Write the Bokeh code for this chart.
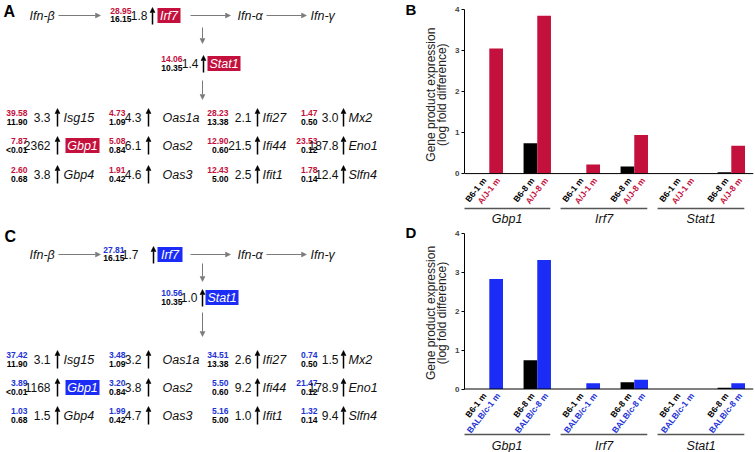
import math
from bokeh.plotting import figure
from bokeh.models import (Range1d, ColumnDataSource, Arrow, NormalHead, Span,
                          LinearAxis, FixedTicker)
from bokeh.layouts import row, column
from bokeh.embed import file_html
from bokeh.resources import INLINE
from bokeh.core.properties import value

# ---------------- data ----------------
grid_genes = ["Isg15", "Oas1a", "Ifi27", "Mx2",
              "Gbp1", "Oas2", "Ifi44", "Eno1",
              "Gbp4", "Oas3", "Ifit1", "Slfn4"]
b6_expr = ["11.90", "1.09", "13.38", "0.50",
           "<0.01", "0.84", "0.60", "0.12",
           "0.68", "0.42", "5.00", "0.14"]
aj_expr = ["39.58", "4.73", "28.23", "1.47",
           "7.87", "5.08", "12.90", "23.53",
           "2.60", "1.91", "12.43", "1.78"]
aj_fold = ["3.3", "4.3", "2.1", "3.0",
           "2362", "6.1", "21.5", "187.8",
           "3.8", "4.6", "2.5", "12.4"]
balb_expr = ["37.42", "3.48", "34.51", "0.74",
             "3.89", "3.20", "5.50", "21.47",
             "1.03", "1.99", "5.16", "1.32"]
balb_fold = ["3.1", "3.2", "2.6", "1.5",
             "1168", "3.8", "9.2", "178.9",
             "1.5", "4.7", "1.0", "9.4"]
path_genes = ["Irf7", "Stat1"]
b6_path = ["16.15", "10.35"]
aj_path = ["28.95", "14.06"]
aj_path_fold = ["1.8", "1.4"]
balb_path = ["27.81", "10.56"]
balb_path_fold = ["1.7", "1.0"]
ifn_labels = ["Ifn-β", "Ifn-α", "Ifn-γ"]
panel_letters = ["A", "B", "C", "D"]

bar_genes = ["Gbp1", "Irf7", "Stat1"]
b6_1m = [0.0, 0.0, 0.0]
b6_8m = [0.74, 0.17, 0.03]
aj_1m = [3.05, 0.22, 0.0]
aj_8m = [3.85, 0.94, 0.68]
b6_8m_d = [0.74, 0.175, 0.03]
balb_1m = [2.83, 0.15, 0.0]
balb_8m = [3.32, 0.24, 0.15]
y_ticks = [0, 1, 2, 3, 4]
y_label_1 = "Gene product expression"
y_label_2 = "(log fold difference)"

# ---------------- style ----------------
RED = "#c4103c"
BLUE = "#1a2cf5"
BLUE_TXT = "#2233d6"
GREY = "#7a7a7a"
FONT = "Liberation Sans"
NARROW = "Liberation Sans Narrow, Liberation Sans"
NBSP = "\u00a0"


def add_text(p, xs, ys, texts, colors, size, style="normal", align="left",
             baseline="middle", angle=0.0, y_offset=0, font=FONT):
    src = ColumnDataSource(dict(x=xs, y=ys, t=texts, c=colors))
    p.text(x="x", y="y", text="t", text_color="c", source=src,
           text_font=value(font), text_font_size=size, text_font_style=style,
           text_align=align, text_baseline=baseline, angle=angle, y_offset=y_offset)


def add_arrows(p, x0, y0, x1, y1, color, width, head):
    src = ColumnDataSource(dict(x0=x0, y0=y0, x1=x1, y1=y1))
    p.add_layout(Arrow(end=NormalHead(size=head, fill_color=color, line_color=color, line_width=0.5),
                       x_start="x0", y_start="y0", x_end="x1", y_end="y1",
                       line_color=color, line_width=width, source=src))


COL_V = [27, 125, 228, 317]
COL_F = [50, 141, 251, 338]
COL_A = [57, 148, 257, 343]
COL_G = [63, 162, 262, 348]

LAYOUT_A = dict(letter=(3, 11), row_y=15, ifn_x=[29, 237, 310],
                h_arrows=[(58, 100), (190, 230), (266, 306)],
                irf_v=131, irf_f=147, irf_a=152, irf_box=(157, 180),
                down1=(27, 43), stat_y=63, stat_v=182, stat_f=198, stat_a=203,
                stat_box=(207, 240), down2=(80, 99), down_x=202,
                grid_y=[117, 145, 174], gbp_box=(65, 99))
LAYOUT_C = dict(letter=(4, 236), row_y=254, ifn_x=[29, 237, 310],
                h_arrows=[(58, 100), (190, 230), (266, 306)],
                irf_v=124, irf_f=138, irf_a=153, irf_box=(157, 182),
                down1=(263, 281), stat_y=297, stat_v=182, stat_f=197, stat_a=202,
                stat_box=(205, 238), down2=(312, 336), down_x=202,
                grid_y=[359, 387, 415], gbp_box=(65, 99))


def draw_diagram(p, L, expr, fold, path_hi, path_fold, color, txt_color, letter):
    ry, sy = L["row_y"], L["stat_y"]
    bh = 7.5
    add_text(p, [L["letter"][0]], [L["letter"][1]], [letter], ["black"], "16px", "bold")
    add_text(p, L["ifn_x"], [ry] * 3, ifn_labels, ["#111"] * 3, "12.5px", "italic")
    add_arrows(p, [a for a, b in L["h_arrows"]], [ry] * 3, [b for a, b in L["h_arrows"]], [ry] * 3,
               GREY, 1, 5)
    dx = L["down_x"]
    add_arrows(p, [dx, dx], [L["down1"][0], L["down2"][0]], [dx, dx], [L["down1"][1], L["down2"][1]],
               GREY, 1, 5)
    boxes_l = [L["irf_box"][0], L["stat_box"][0], L["gbp_box"][0]]
    boxes_r = [L["irf_box"][1], L["stat_box"][1], L["gbp_box"][1]]
    gy1 = L["grid_y"][1]
    boxes_y = [ry, sy, gy1]
    p.quad(left=boxes_l, right=boxes_r, top=[y - bh for y in boxes_y],
           bottom=[y + bh for y in boxes_y], fill_color=color, line_color=None)
    add_text(p, [(l + r) / 2 for l, r in zip(boxes_l, boxes_r)], boxes_y,
             path_genes + [grid_genes[4]], ["white"] * 3, "12.5px", "italic", "center")
    add_text(p, [L["irf_v"], L["stat_v"]], [ry - 5, sy - 4.5], path_hi, [txt_color] * 2,
             "8.5px", "bold", "right")
    add_text(p, [L["irf_v"], L["stat_v"]], [ry + 3.5, sy + 4], b6_path, ["black"] * 2,
             "8.5px", "bold", "right")
    add_text(p, [L["irf_f"], L["stat_f"]], [ry, sy], path_fold, ["#111"] * 2, "12px", "normal",
             "right", font=NARROW)
    gx_v, gy_v, gx_f, gy, ax, ay0, ay1 = [], [], [], [], [], [], []
    for i in range(12):
        r, c = divmod(i, 4)
        y = L["grid_y"][r]
        gx_v.append(COL_V[c]); gy_v.append(y)
        gx_f.append(COL_F[c]); gy.append(y)
        ax.append(COL_A[c]); ay0.append(y + 9); ay1.append(y - 9)
    add_text(p, gx_v, [y - 4.5 for y in gy_v], expr, [txt_color] * 12, "8.5px", "bold", "right")
    add_text(p, gx_v, [y + 4 for y in gy_v], b6_expr, ["black"] * 12, "8.5px", "bold", "right")
    add_text(p, gx_f, gy, fold, ["#111"] * 12, "12px", "normal", "right", font=NARROW)
    idx = [i for i in range(12) if i != 4]
    add_text(p, [COL_G[i % 4] for i in idx], [gy[i] for i in idx], [grid_genes[i] for i in idx],
             ["#111"] * 11, "12.5px", "italic")
    ax += [L["irf_a"], L["stat_a"]]
    ay0 += [ry + 9, sy + 9]
    ay1 += [ry - 8, sy - 8]
    add_arrows(p, ax, ay0, ax, ay1, "black", 1.5, 5)


left = figure(width=420, height=452, x_range=Range1d(0, 420), y_range=Range1d(452, 0),
              toolbar_location=None, output_backend="svg", min_border=0,
              x_axis_location=None, y_axis_location=None)
left.outline_line_color = None
left.grid.grid_line_color = None
draw_diagram(left, LAYOUT_A, aj_expr, aj_fold, aj_path, aj_path_fold, RED, RED, panel_letters[0])
draw_diagram(left, LAYOUT_C, balb_expr, balb_fold, balb_path, balb_path_fold, BLUE, BLUE_TXT,
             panel_letters[2])
# letters of the bar-chart panels (placed in the diagram canvas, left of the charts)
add_text(left, [405, 405], [9, 232], [panel_letters[1], panel_letters[3]], ["black"] * 2,
         "15px", "bold")

GSTEP, PSTEP = 7.08, 3.5


def bar_chart(other, ocolor, otxt, o1, o8, b8, y_lo, top_border, line_y, gene_y, pad):
    p = figure(width=335, height=226, x_range=Range1d(-1.31, 19.78), y_range=Range1d(y_lo, 4),
               x_axis_location=None, toolbar_location=None, output_backend="svg",
               min_border_left=44, min_border_right=2, min_border_top=top_border,
               min_border_bottom=0)
    p.outline_line_color = None
    p.grid.grid_line_color = None
    xb, tb, xo, to = [], [], [], []
    lx, lt, lc = [], [], []
    for g in range(3):
        for a, (bv, ov, age) in enumerate([(b6_1m[g], o1[g], 1), (b8[g], o8[g], 8)]):
            x0 = g * GSTEP + a * PSTEP
            xb.append(x0); tb.append(bv)
            xo.append(x0 + 1); to.append(ov)
            lx += [x0 + 0.15, x0 + 1.15]
            lt += [f"B6-{age} m", f"{other}-{age} m"]
            lc += ["black", otxt]
    p.vbar(x=xb, top=tb, bottom=0, width=1, fill_color="black", line_color=None)
    p.vbar(x=xo, top=to, bottom=0, width=1, fill_color=ocolor, line_color=None)
    p.add_layout(Span(location=0, dimension="width", line_color="black", line_width=1))
    add_text(p, lx, [0] * len(lx), lt, lc, "8.5px", "bold", "right", "middle",
             angle=math.radians(52), y_offset=5)
    gx = [g * GSTEP for g in range(3)]
    p.segment(x0=[x - 1.38 for x in gx], y0=[line_y] * 3, x1=[x + 4.95 for x in gx],
              y1=[line_y] * 3, line_color="#555", line_width=1.5)
    add_text(p, [x + 1.8 for x in gx], [gene_y] * 3, bar_genes, ["#111"] * 3, "12.5px",
             "italic", "center")
    ax = p.yaxis[0]
    ax.ticker = FixedTicker(ticks=y_ticks)
    ax.bounds = (0, 4)
    ax.axis_label = NBSP * pad + y_label_2
    ax.axis_label_text_font = FONT
    ax.axis_label_text_font_size = "12px"
    ax.axis_label_text_font_style = "normal"
    ax.axis_label_text_color = "#222"
    ax.axis_label_standoff = 3
    ax.major_label_text_font = FONT
    ax.major_label_text_font_size = "8px"
    ax.major_label_text_font_style = "bold"
    ax.major_tick_out = 3
    ax.major_tick_in = 0
    ax.minor_tick_out = 0
    ax.minor_tick_in = 0
    ax.major_label_standoff = 2
    ax2 = LinearAxis(axis_label=NBSP * pad + y_label_1, bounds=(0, 4),
                     ticker=FixedTicker(ticks=[]), major_tick_out=0, major_tick_in=0,
                     minor_tick_out=0, minor_tick_in=0, axis_line_color=None,
                     major_label_text_font_size="0px", axis_label_standoff=-5,
                     axis_label_text_font=FONT, axis_label_text_font_size="12px",
                     axis_label_text_font_style="normal", axis_label_text_color="#222")
    p.add_layout(ax2, "left")
    return p


pB = bar_chart("A/J", RED, RED, aj_1m, aj_8m, b6_8m, -1.29, 9, -0.85, -1.1, 14)
pD = bar_chart("BALB/c", BLUE, BLUE_TXT, balb_1m, balb_8m, b6_8m_d, -1.633, 7, -1.17, -1.46, 18)

layout = row(left, column(pB, pD))
open("out.html", "w").write(file_html(layout, INLINE))
